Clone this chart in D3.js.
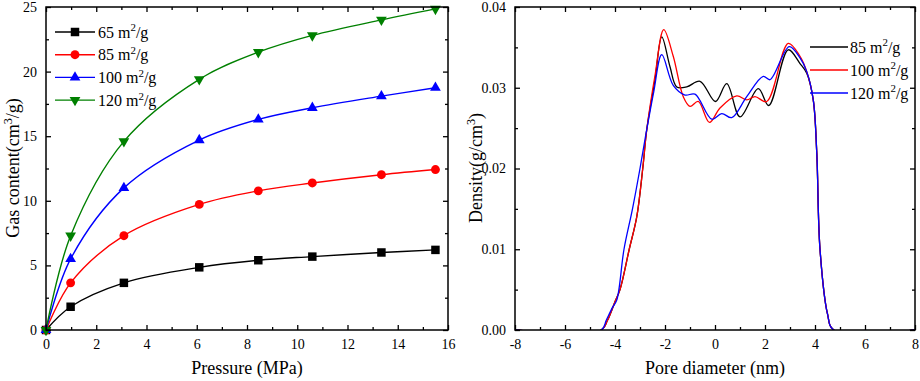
<!DOCTYPE html>
<html>
<head>
<meta charset="utf-8">
<script src="https://cdn.jsdelivr.net/npm/d3@7"></script>
<style>
  body { margin: 0; background: #fff; }
  svg { display: block; }
  svg text { font-family: "Liberation Serif", "Times New Roman", serif; fill: #000; }
</style>
</head>
<body>
<div id="chart"></div>
<script>
// left panel: adsorption isotherms
const pressure = [0, 0.98, 3.1, 6.1, 8.45, 10.6, 13.35, 15.5];
const gas65  = [0, 1.8, 3.65, 4.85, 5.4, 5.68, 6.0, 6.2];
const gas85  = [0, 3.65, 7.3, 9.72, 10.77, 11.38, 12.02, 12.42];
const gas100 = [0, 5.5, 11.0, 14.7, 16.3, 17.2, 18.1, 18.75];
const gas120 = [0, 7.3, 14.6, 19.4, 21.5, 22.8, 24.0, 24.85];
const gasSeries = ["65", "85", "100", "120"];

// right panel: density profiles
const poreX85  = [-8, -4.55, -4.3, -4.0, -3.8, -3.43, -3.13, -2.89, -2.73, -2.4, -2.13, -1.8, -1.53, -1.13, -0.6, 0.02, 0.47, 1.0, 1.73, 2.15, 2.93, 3.4, 3.67, 3.93, 4.07, 4.2, 4.5, 4.75, 8];
const dens85   = [0, 0, 0.0012, 0.0035, 0.005, 0.01, 0.014, 0.02, 0.0248, 0.031, 0.0363, 0.0326, 0.0301, 0.0301, 0.0308, 0.0283, 0.0305, 0.0264, 0.0299, 0.0278, 0.0347, 0.033, 0.0318, 0.0285, 0.022, 0.01, 0.002, 0, 0];
const poreX100 = [-8, -4.55, -4.3, -4.0, -3.8, -3.43, -3.13, -2.89, -2.73, -2.4, -2.05, -1.67, -1.27, -1.0, -0.67, -0.22, 0.2, 0.87, 1.27, 1.6, 2.07, 2.93, 3.4, 3.67, 3.93, 4.07, 4.2, 4.5, 4.75, 8];
const dens100  = [0, 0, 0.0012, 0.0035, 0.005, 0.01, 0.014, 0.02, 0.0248, 0.0315, 0.0372, 0.0339, 0.0289, 0.0277, 0.0283, 0.0257, 0.0275, 0.029, 0.0285, 0.0289, 0.0283, 0.0355, 0.0339, 0.032, 0.0285, 0.022, 0.01, 0.002, 0, 0];
const poreX120 = [-8, -4.55, -4.35, -4.1, -3.93, -3.64, -3.3, -3.0, -2.75, -2.45, -2.13, -1.67, -1.2, -0.8, -0.13, 0.27, 0.67, 1.27, 1.93, 2.2, 2.97, 3.4, 3.67, 3.93, 4.07, 4.2, 4.5, 4.75, 8];
const dens120  = [0, 0, 0.0012, 0.0028, 0.0037, 0.01, 0.015, 0.02, 0.0245, 0.0295, 0.0341, 0.0303, 0.0291, 0.0292, 0.0261, 0.0268, 0.0263, 0.0289, 0.0314, 0.031, 0.0351, 0.0337, 0.032, 0.0285, 0.022, 0.01, 0.002, 0, 0];
const densSeries = ["85", "100", "120"];

const pressureTicks = [0, 2, 4, 6, 8, 10, 12, 14, 16];
const gasTicks      = [0, 5, 10, 15, 20, 25];
const poreTicks     = [-8, -6, -4, -2, 0, 2, 4, 6, 8];
const densTicks     = [0, 0.01, 0.02, 0.03, 0.04];

const width = 920, height = 381;
const plotTop = 7, plotBottom = 330;

const svg = d3.select("#chart")
  .append("svg")
  .attr("width", width)
  .attr("height", height);

// text with one superscript part
const supText = (sel, before, sup, after, size) => {
  sel.append("tspan").text(before);
  sel.append("tspan").attr("dy", -size * 0.38).style("font-size", (size * 0.68) + "px").text(sup);
  sel.append("tspan").attr("dy", size * 0.38).style("font-size", size + "px").text(after);
};

// frame + inward ticks on all four sides
const drawFrame = (x, y, xMajor, xMinor, yMajor, yMinor, xFmt, yFmt) => {
  const g = svg.append("g");
  const [x0, x1] = x.range();
  const axes = [
    [d3.axisBottom(x), `translate(0,${plotBottom})`, xMajor, xMinor, xFmt],
    [d3.axisTop(x),    `translate(0,${plotTop})`,    xMajor, xMinor, null],
    [d3.axisLeft(y),   `translate(${x0},0)`,         yMajor, yMinor, yFmt],
    [d3.axisRight(y),  `translate(${x1},0)`,         yMajor, yMinor, null]
  ];
  axes.forEach(([ax, tr, major, minor, fmt]) => {
    const gm = g.append("g").attr("transform", tr)
      .call(ax.tickValues(major).tickSize(-5).tickPadding(fmt ? 9 : 0)
        .tickFormat(fmt ? fmt : () => ""));
    gm.select(".domain").remove();
    gm.selectAll("text").style("font-size", "14px");
    gm.selectAll("line").attr("stroke-width", 1.3);
    const gn = g.append("g").attr("transform", tr)
      .call(ax.tickValues(minor).tickSize(-3).tickFormat(() => ""));
    gn.select(".domain").remove();
    gn.selectAll("line").attr("stroke-width", 1.3);
  });
  g.append("rect")
    .attr("x", x0).attr("y", plotTop)
    .attr("width", x1 - x0).attr("height", plotBottom - plotTop)
    .attr("fill", "none").attr("stroke", "#000").attr("stroke-width", 1.5);
};

// ---------- left panel ----------
const xL = d3.scaleLinear().domain([0, 16]).range([46, 448]);
const yL = d3.scaleLinear().domain([0, 25]).range([plotBottom, plotTop]);

const gasColors  = ["#000000", "#ff0000", "#0000ff", "#008000"];
const gasSymbols = [
  d3.symbol().type(d3.symbolSquare).size(72),
  d3.symbol().type(d3.symbolCircle).size(62),
  d3.symbol().type(d3.symbolTriangle).size(50),
  d3.symbol().type(d3.symbolTriangle).size(50)
];
const gasRot = [0, 0, 0, 180];
const gasData = [gas65, gas85, gas100, gas120].map(vals => pressure.map((p, i) => ({ x: p, y: vals[i] })));

const lineL = d3.line().x(d => xL(d.x)).y(d => yL(d.y)).curve(d3.curveCatmullRom.alpha(0.5));

gasData.forEach((pts, k) => {
  svg.append("path")
    .datum(pts)
    .attr("d", lineL)
    .attr("fill", "none")
    .attr("stroke", gasColors[k])
    .attr("stroke-width", 1.4);
  svg.append("g").selectAll("path")
    .data(pts)
    .join("path")
      .attr("d", gasSymbols[k])
      .attr("transform", d => `translate(${xL(d.x)},${yL(d.y)}) rotate(${gasRot[k]})`)
      .attr("fill", gasColors[k]);
});

drawFrame(xL, yL, pressureTicks, d3.range(1, 16, 2), gasTicks, d3.range(2.5, 25, 5),
  d => String(d), d => String(d));

// legend
gasSeries.forEach((s, k) => {
  const ly = 32 + k * 22.7;
  svg.append("line")
    .attr("x1", 55).attr("x2", 95).attr("y1", ly).attr("y2", ly)
    .attr("stroke", gasColors[k]).attr("stroke-width", 1.4);
  svg.append("path")
    .attr("d", gasSymbols[k])
    .attr("transform", `translate(75,${ly}) rotate(${gasRot[k]})`)
    .attr("fill", gasColors[k]);
  svg.append("text")
    .attr("x", 98).attr("y", ly + 5.5)
    .style("font-size", "16px")
    .call(supText, s + " m", "2", "/g", 16);
});

svg.append("text")
  .attr("x", 247).attr("y", 374)
  .attr("text-anchor", "middle")
  .style("font-size", "18px")
  .text("Pressure (MPa)");

svg.append("text")
  .attr("transform", "translate(19,168) rotate(-90)")
  .attr("text-anchor", "middle")
  .style("font-size", "18px")
  .call(supText, "Gas content(cm", "3", "/g)", 18);

// ---------- right panel ----------
const xR = d3.scaleLinear().domain([-8, 8]).range([515, 915]);
const yR = d3.scaleLinear().domain([0, 0.04]).range([plotBottom, plotTop]);

const densColors = ["#000000", "#ff0000", "#0000ff"];
const densData = [[poreX85, dens85], [poreX100, dens100], [poreX120, dens120]]
  .map(([xs, ys]) => xs.map((v, i) => ({ x: v, y: ys[i] })));

const lineR = d3.line().x(d => xR(d.x)).y(d => yR(d.y)).curve(d3.curveCatmullRom.alpha(0.5));

svg.append("defs").append("clipPath").attr("id", "clipR")
  .append("rect").attr("x", 515).attr("y", plotTop).attr("width", 400).attr("height", plotBottom - plotTop);

densData.forEach((pts, k) => {
  svg.append("path")
    .datum(pts)
    .attr("clip-path", "url(#clipR)")
    .attr("d", lineR)
    .attr("fill", "none")
    .attr("stroke", densColors[k])
    .attr("stroke-width", 1.3);
});

drawFrame(xR, yR, poreTicks, d3.range(-7, 8, 2), densTicks, [0.005, 0.015, 0.025, 0.035],
  d => String(d), d3.format(".2f"));

densSeries.forEach((s, k) => {
  const ly = 47 + k * 23;
  svg.append("line")
    .attr("x1", 810).attr("x2", 848).attr("y1", ly).attr("y2", ly)
    .attr("stroke", densColors[k]).attr("stroke-width", 1.3);
  svg.append("text")
    .attr("x", 850).attr("y", ly + 5.5)
    .style("font-size", "16px")
    .call(supText, s + " m", "2", "/g", 16);
});

svg.append("text")
  .attr("x", 715).attr("y", 374)
  .attr("text-anchor", "middle")
  .style("font-size", "18px")
  .text("Pore diameter (nm)");

svg.append("text")
  .attr("transform", "translate(482,168) rotate(-90)")
  .attr("text-anchor", "middle")
  .style("font-size", "18px")
  .call(supText, "Density(g/cm", "3", ")", 18);
</script>
</body>
</html>
